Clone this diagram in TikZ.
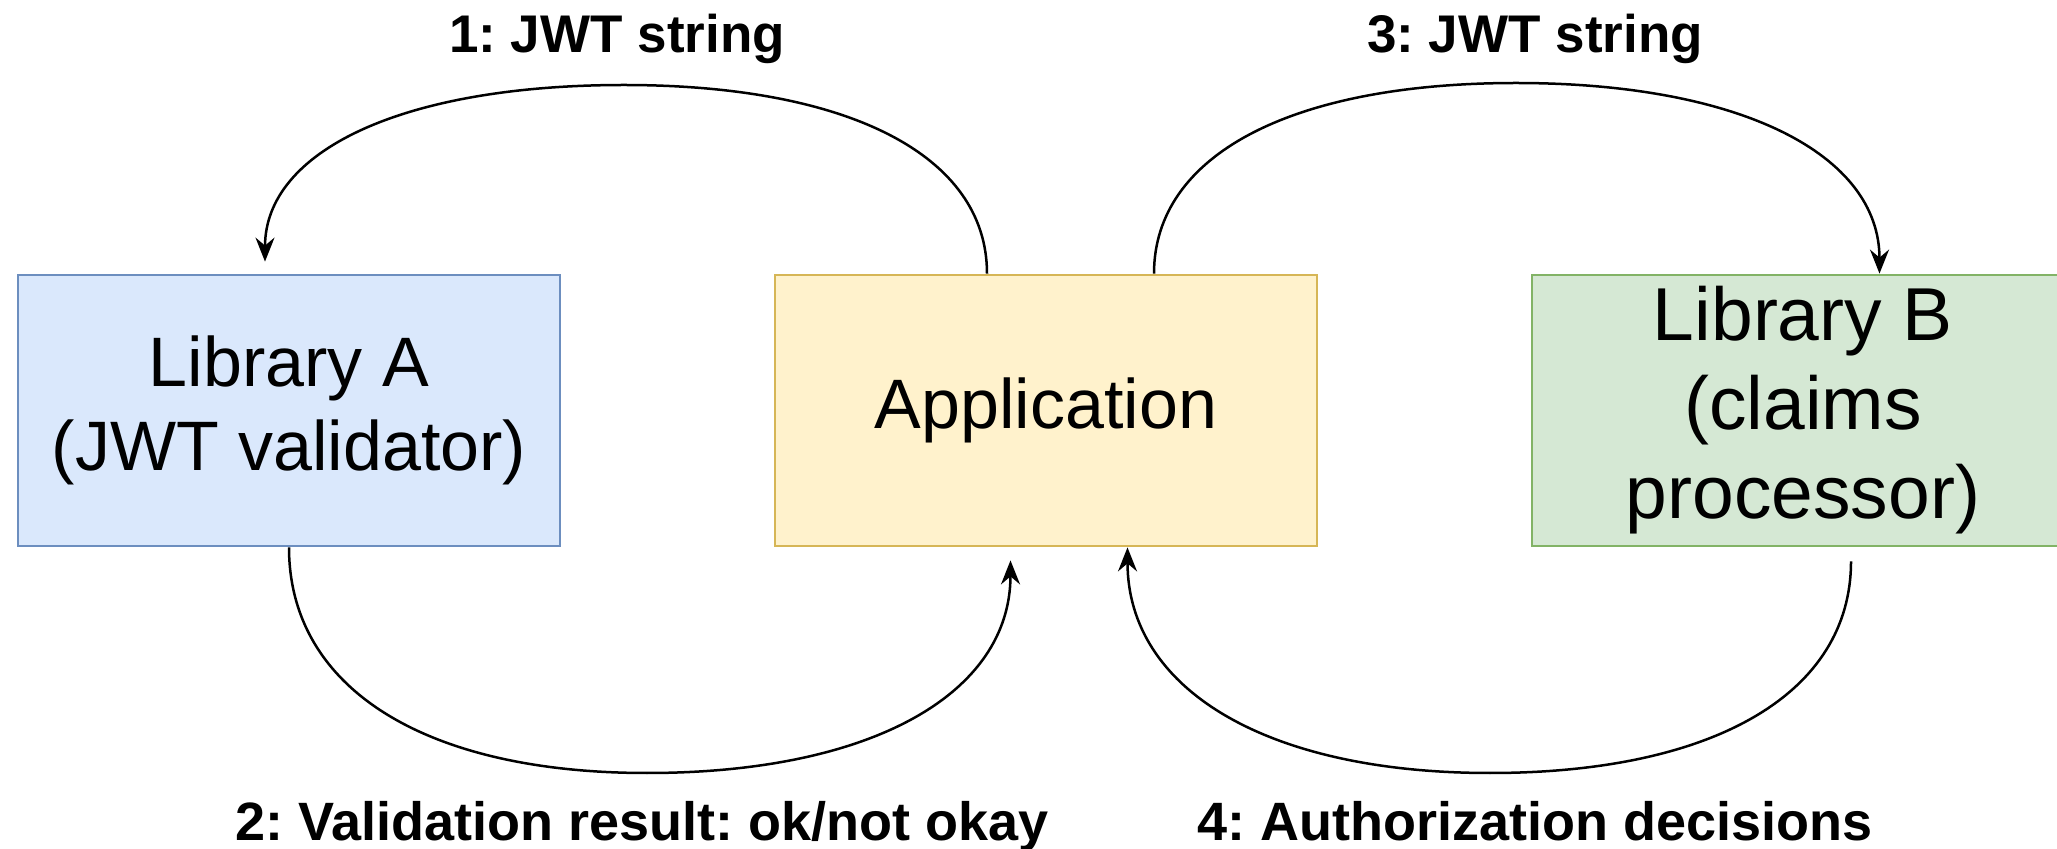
\documentclass[tikz,border=0pt]{standalone}
\usepackage{fontspec}
\setmainfont{Liberation Sans}
\frenchspacing
\usetikzlibrary{arrows.meta,calc}
\definecolor{blueF}{HTML}{DAE8FC}
\definecolor{blueD}{HTML}{6C8EBF}
\definecolor{yelF}{HTML}{FFF2CC}
\definecolor{yelD}{HTML}{D6B656}
\definecolor{grnF}{HTML}{D5E8D4}
\definecolor{grnD}{HTML}{82B366}
\begin{document}
\begin{tikzpicture}[x=0.5pt,y=-0.5pt,
  box/.style={draw, line width=1.4pt, minimum width=271pt, minimum height=135.5pt,
    inner sep=0pt, align=center, font=\fontsize{35pt}{42pt}\selectfont},
  flow/.style={line width=1.25pt, -{Stealth[length=12pt,width=9.5pt,inset=4pt]}},
  lbl/.style={font=\fontsize{27pt}{32pt}\selectfont\bfseries, inner sep=0pt, anchor=base}]
\useasboundingbox (0,0) rectangle (2057,849);
\clip (0,0) rectangle (2057,849);
\fill[white] (0,0) rectangle (2057,849);

\node[box, fill=blueF, draw=blueD] (A) at (289,410.5) {Library A\\(JWT validator)};
\node[box, fill=yelF, draw=yelD] (App) at (1046,410.5) {\raisebox{-3pt}{Application}};
\node[box, fill=grnF, draw=grnD, font=\fontsize{37.5pt}{44.5pt}\selectfont] (B) at (1803,410.5) {Library B\\(claims\\processor)};

% arrow 1
\coordinate (s1) at ($(App.north)+(-59,0)$);
\coordinate (k1) at (624,85);
\coordinate (e1) at ($(A.north)+(-24,-12)$);
\draw[flow] (s1) .. controls +(0,-118) and +(225,0) .. (k1)
               .. controls +(-223,0) and +(0,-110) .. (e1);
% arrow 3
\coordinate (s3) at ($(App.north)+(108,0)$);
\coordinate (k3) at (1516,83);
\coordinate (e3) at ($(B.north)+(76.5,0)$);
\draw[flow] (s3) .. controls +(0,-119) and +(-224,0) .. (k3)
               .. controls +(225,0) and +(0,-119) .. (e3);
% arrow 2
\coordinate (s2) at (A.south);
\coordinate (k2) at (647,773);
\coordinate (e2) at ($(App.south)+(-35.5,13)$);
\draw[flow] (s2) .. controls +(0,141) and +(-222,0) .. (k2)
               .. controls +(225,0) and +(0,133) .. (e2);
% arrow 4
\coordinate (s4) at ($(B.south)+(48,14)$);
\coordinate (k4) at (1490,773);
\coordinate (e4) at ($(App.south)+(81.5,0)$);
\draw[flow] (s4) .. controls +(0,132) and +(224,0) .. (k4)
               .. controls +(-225,0) and +(0,141) .. (e4);

\node[lbl, font=\fontsize{26.5pt}{32pt}\selectfont\bfseries] (L1) at (617,53) {1: JWT string};
\node[lbl, font=\fontsize{26.5pt}{32pt}\selectfont\bfseries] (L3) at (1535,53) {3: JWT string};
\node[lbl] (L2) at (642,841) {2: Validation result: ok/not okay};
\node[lbl] (L4) at (1535,841) {4: Authorization decisions};
\end{tikzpicture}
\end{document}
